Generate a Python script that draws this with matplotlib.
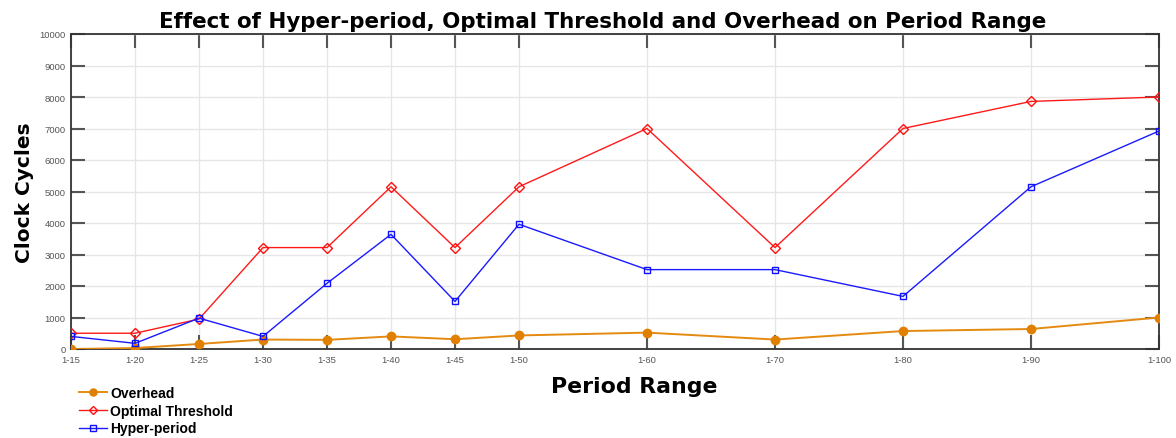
import matplotlib
matplotlib.use("Agg")
import matplotlib.pyplot as plt

period_upper = [15, 20, 25, 30, 35, 40, 45, 50, 60, 70, 80, 90, 100]
tick_labels = ["1-15", "1-20", "1-25", "1-30", "1-35", "1-40", "1-45", "1-50",
               "1-60", "1-70", "1-80", "1-90", "1-100"]
overhead = [0, 30, 160, 300, 290, 400, 310, 430, 520, 300, 570, 635, 1000]
optimal_threshold = [500, 500, 950, 3220, 3220, 5150, 3220, 5150, 7000, 3220, 7000, 7860, 8000]
hyper_period = [400, 180, 980, 400, 2085, 3640, 1510, 3960, 2520, 2520, 1670, 5150, 6920]

fig = plt.figure(figsize=(11.76, 4.39), dpi=100)
ax = fig.add_axes([71/1176, 1 - 350/439, (1159-71)/1176, (350-35)/439])

ax.plot(period_upper, overhead, color='#E58A10', lw=1.4, marker='o', ms=6,
        mfc='#E07F00', mec='#E07F00', label='Overhead', zorder=3)
ax.plot(period_upper, optimal_threshold, color='#FF1A1A', lw=1.0, marker='D', ms=5,
        mfc='none', mec='#FF1010', mew=1.0, label='Optimal Threshold', zorder=3)
ax.plot(period_upper, hyper_period, color='#1A1AFF', lw=1.0, marker='s', ms=5,
        mfc='none', mec='#1010FF', mew=1.0, label='Hyper-period', zorder=3)

ax.set_xlim(15, 100)
ax.set_ylim(0, 10000)
ax.set_xticks(period_upper)
ax.set_xticklabels(tick_labels, fontsize=6.8, color='#555555', family='Liberation Sans')
ax.set_yticks(range(0, 10001, 1000))
ax.set_yticklabels([str(v) for v in range(0, 10001, 1000)], fontsize=6.8,
                   color='#555555', family='Liberation Sans')
ax.tick_params(direction='in', length=10, width=1.5, color='#555555',
               top=True, right=True, pad=4)
ax.grid(True, color='#e6e6e6', lw=1.0, zorder=0)
ax.set_axisbelow(True)
for s in ax.spines.values():
    s.set_color('#333333')
    s.set_linewidth(1.3)

ax.set_title('Effect of Hyper-period, Optimal Threshold and Overhead on Period Range',
             fontsize=15.4, fontweight='bold', family='DejaVu Sans', pad=5,
             x=(603 - 71) / 1088)
ax.set_xlabel('Period Range', fontsize=15.8, fontweight='bold', family='DejaVu Sans')
ax.xaxis.set_label_coords((634 - 71) / 1088, -0.085)
ax.set_ylabel('Clock Cycles', fontsize=14.5, fontweight='bold', family='DejaVu Sans')
ax.yaxis.set_label_coords(-0.034, 0.5)

leg = fig.legend(loc='upper left', bbox_to_anchor=(69/1176, 1 - 377/439), frameon=False,
                 prop={'family': 'Liberation Sans', 'size': 10, 'weight': 'bold'},
                 handlelength=2.0, handletextpad=0.25, labelspacing=0.28, borderpad=0.2,
                 markerscale=0.85)

fig.savefig('out.png', dpi=100)
